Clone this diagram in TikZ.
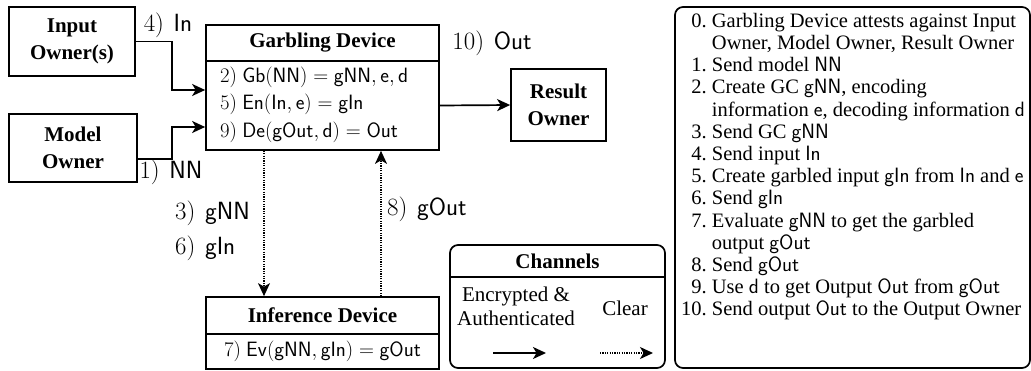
\documentclass[tikz,border=0pt]{standalone}
\usepackage[no-math]{fontspec}
\setmainfont{Liberation Serif}
\usetikzlibrary{arrows.meta}

\tikzset{
  frame/.style={draw, line width=1.7pt, inner sep=0pt, align=center},
  titlebox/.style={frame, font=\fontsize{21}{26.5}\selectfont\bfseries},
  formbox/.style={frame, font=\fontsize{21}{27.5}\selectfont},
  lbl/.style={inner sep=0pt, font=\fontsize{24}{28}\selectfont},
  arr/.style={line width=1.7pt, -{Stealth[length=13pt,width=12pt,inset=3.5pt]}},
  dotarr/.style={line width=1.3pt, dash pattern=on 1.2pt off 1.2pt,
    -{Stealth[length=13pt,width=12pt,inset=3.5pt]}},
  plain/.style={inner sep=0pt, align=center},
}
\newcommand{\spc}{\mskip7mu}

\begin{document}
\begin{tikzpicture}[x=1pt,y=-1pt]
\useasboundingbox (0,0) rectangle (1031,370);

% parties
\node[titlebox, minimum width=126pt, minimum height=69pt] (inp) at (72,41.5) {Input\\Owner(s)};
\node[titlebox, minimum width=128pt, minimum height=68pt] (mod) at (73,148) {Model\\Owner};
\node[titlebox, minimum width=95pt, minimum height=72pt] (res) at (558.5,105) {Result\\Owner};

% garbling device
\node[titlebox, minimum width=233pt, minimum height=36pt] (garbhead) at (322.5,43) {Garbling Device};
\node[formbox, minimum width=233pt, minimum height=89pt] (garbbody) at (322.5,105.5) {};
\node[plain, align=left, font=\fontsize{21}{27.5}\selectfont, anchor=west] (garbtext) at (220,104.5)
  {$2)\ \mathsf{Gb}(\mathsf{NN}) = \mathsf{gNN}, \mathsf{e}, \mathsf{d}$\\
   $5)\ \mathsf{En}(\mathsf{In}, \mathsf{e}) = \mathsf{gIn}$\\
   $9)\ \mathsf{De}(\mathsf{gOut}, \mathsf{d}) = \mathsf{Out}$};

% inference device
\node[titlebox, minimum width=233pt, minimum height=37pt] (infhead) at (322.5,315.5) {Inference Device};
\node[formbox, minimum width=233pt, minimum height=35pt] (infbody) at (322.5,351.5)
  {$7)\ \mathsf{Ev}(\mathsf{gNN}, \mathsf{gIn}) = \mathsf{gOut}$};

% message flow
\draw[arr] (inp.east) -- ++(36,0) |- ([yshift=15.5pt]garbbody.west);
\draw[arr] ([yshift=-11pt]mod.east) -- ++(34,0) |- ([yshift=-21.5pt]garbbody.west);
\draw[arr] (garbbody.east) -- (res.west);
\draw[dotarr] ([xshift=-58.5pt]garbbody.south) -- ([xshift=-58.5pt]infhead.north);
\draw[dotarr] ([xshift=58.5pt]infhead.north) -- ([xshift=58.5pt]garbbody.south);

\node[lbl] (l4) at (168,25) {$4)\spc\mathsf{In}$};
\node[lbl] (l1) at (171,172) {$1)\spc\mathsf{NN}$};
\node[lbl] (l10) at (492,43) {$10)\spc\mathsf{Out}$};
\node[lbl, anchor=west] (l3) at (175,213) {$3)\spc\mathsf{gNN}$};
\node[lbl, anchor=west] (l6) at (175,248) {$6)\spc\mathsf{gIn}$};
\node[lbl, anchor=west] (l8) at (387,209) {$8)\spc\mathsf{gOut}$};

% channel legend
\draw[line width=1.7pt, rounded corners=8pt] (450,245) rectangle (665,368);
\draw[line width=1.7pt] (450,277) -- (665,277);
\node[plain, font=\fontsize{21}{24}\selectfont\bfseries] (chan) at (557.5,261) {Channels};
\node[plain, font=\fontsize{21}{24}\selectfont] (enc) at (516,306) {Encrypted \&\\Authenticated};
\node[plain, font=\fontsize{21}{24}\selectfont] (clr) at (625,308) {Clear};
\coordinate (s0) at (493,353);
\coordinate (s1) at (546,353);
\coordinate (d0) at (600,353);
\coordinate (d1) at (653,353);
\draw[arr] (s0) -- (s1);
\draw[dotarr] (d0) -- (d1);

% protocol steps
\draw[line width=1.7pt, rounded corners=8pt] (675,7) rectangle (1030,368);
\node[plain, anchor=north west, align=left, font=\fontsize{20.5}{22.2}\selectfont] (steps) at (681,11.5) {%
\begin{tabular}{@{}r@{\ }l@{}}
0. & Garbling Device attests against Input\\
   & Owner, Model Owner, Result Owner\\
1. & Send model $\mathsf{NN}$\\
2. & Create GC $\mathsf{gNN}$, encoding\\
   & information $\mathsf{e}$, decoding information $\mathsf{d}$\\
3. & Send GC $\mathsf{gNN}$\\
4. & Send input $\mathsf{In}$\\
5. & Create garbled input $\mathsf{gIn}$ from $\mathsf{In}$ and $\mathsf{e}$\\
6. & Send $\mathsf{gIn}$\\
7. & Evaluate $\mathsf{gNN}$ to get the garbled\\
   & output $\mathsf{gOut}$\\
8. & Send $\mathsf{gOut}$\\
9. & Use $\mathsf{d}$ to get Output $\mathsf{Out}$ from $\mathsf{gOut}$\\
10. & Send output $\mathsf{Out}$ to the Output Owner
\end{tabular}};
\end{tikzpicture}
\end{document}
